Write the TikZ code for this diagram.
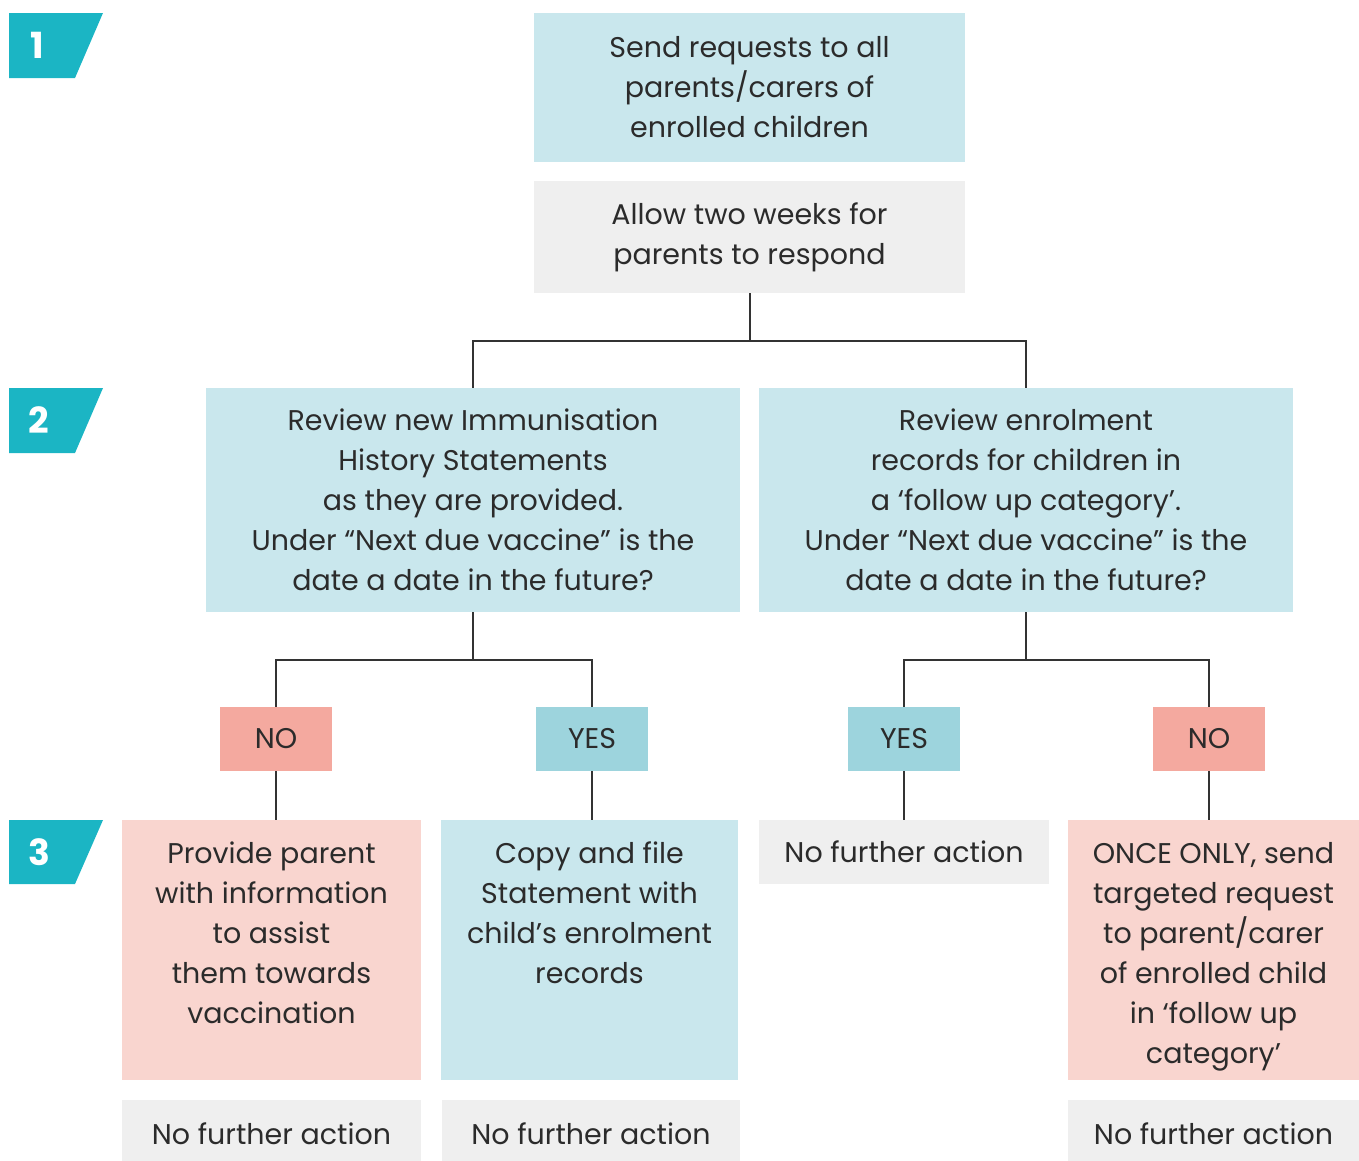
\documentclass[tikz,border=0pt]{standalone}
\usepackage{fontspec}
\setmainfont{Poppins}
\definecolor{lblue}{HTML}{C9E7ED}
\definecolor{lgray}{HTML}{EFEFEF}
\definecolor{lpink}{HTML}{F9D5CF}
\definecolor{nored}{HTML}{F4A99F}
\definecolor{yesblue}{HTML}{9DD4DD}
\definecolor{badge}{HTML}{1BB5C4}
\definecolor{txt}{HTML}{2B2B2B}
\definecolor{ln}{HTML}{333333}
\tikzset{
  base/.style={inner sep=0pt, align=center, text=txt, font=\fontsize{28.5}{40}\selectfont},
  bluebox/.style={base, fill=lblue},
  graybox/.style={base, fill=lgray},
  pinkbox/.style={base, fill=lpink},
  nobox/.style={base, fill=nored, minimum width=112, minimum height=64},
  yesbox/.style={base, fill=yesblue, minimum width=112, minimum height=64},
  conn/.style={draw=ln, line width=2pt},
  badgenum/.style={text=white, font=\fontsize{36}{40}\selectfont\bfseries, inner sep=0pt}
}
\begin{document}
\begin{tikzpicture}[x=1pt,y=-1pt]
\useasboundingbox (0,0) rectangle (1359,1160);
% badges
\fill[badge] (9,13) -- (103,13) -- (75,78) -- (9,78) -- cycle;
\node[badgenum] (n1) at (37,45.5) {1};
\fill[badge] (9,388) -- (103,388) -- (75,453) -- (9,453) -- cycle;
\node[badgenum] (n2) at (39,420.5) {2};
\fill[badge] (9,820) -- (103,820) -- (75,884) -- (9,884) -- cycle;
\node[badgenum] (n3) at (39,852) {3};
% row 1
\node[bluebox, minimum width=431, minimum height=149] (a) at (749.5,87.5)
  {Send requests to all\\parents/carers of\\enrolled children};
\node[graybox, minimum width=431, minimum height=112] (b) at (749.5,237)
  {Allow two weeks for\\parents to respond};
% row 2
\node[bluebox, minimum width=534, minimum height=224] (c) at (473,500)
  {Review new Immunisation\\History Statements\\as they are provided.\\Under “Next due vaccine” is the\\date a date in the future?};
\node[bluebox, minimum width=534, minimum height=224] (d) at (1026,500)
  {Review enrolment\\records for children in\\a ‘follow up category’.\\Under “Next due vaccine” is the\\date a date in the future?};
% yes/no
\node[nobox] (no1) at (276,739) {NO};
\node[yesbox] (yes1) at (592,739) {YES};
\node[yesbox] (yes2) at (904,739) {YES};
\node[nobox] (no2) at (1209,739) {NO};
% row 3
\node[pinkbox, anchor=north, minimum width=299, minimum height=260] (e) at (271.5,820)
  {\parbox[c][216pt][t]{295pt}{\centering Provide parent\\with information\\to assist\\them towards\\vaccination}};
\node[bluebox, anchor=north, minimum width=297, minimum height=260] (f) at (589.5,820)
  {\parbox[c][216pt][t]{295pt}{\centering Copy and file\\Statement with\\child’s enrolment\\records}};
\node[graybox, anchor=north, minimum width=290, minimum height=64] (g) at (904,820)
  {No further action};
\node[pinkbox, anchor=north, minimum width=291, minimum height=260] (h) at (1213.5,820)
  {\parbox[c][216pt][t]{290pt}{\centering ONCE ONLY, send\\targeted request\\to parent/carer\\of enrolled child\\in ‘follow up\\category’}};
% bottom
\node[graybox, anchor=north, minimum width=299, minimum height=68] (e2) at (271.5,1100) {No further action};
\node[graybox, anchor=north, minimum width=298, minimum height=68] (f2) at (591,1100) {No further action};
\node[graybox, anchor=north, minimum width=291, minimum height=68] (h2) at (1213.5,1100) {No further action};
% connectors
\coordinate (j1) at (749.5,341);
\coordinate (j2) at (473,660);
\coordinate (j3) at (1026,660);
\draw[conn] (b.south) -- (j1);
\draw[conn] (c.north) |- (j1) -| (d.north);
\draw[conn] (c.south) -- (j2);
\draw[conn] (no1.north) |- (j2) -| (yes1.north);
\draw[conn] (d.south) -- (j3);
\draw[conn] (yes2.north) |- (j3) -| (no2.north);
\draw[conn] (no1.south) -- (e.north -| no1.south);
\draw[conn] (yes1.south) -- (f.north -| yes1.south);
\draw[conn] (yes2.south) -- (g.north);
\draw[conn] (no2.south) -- (h.north -| no2.south);
\end{tikzpicture}
\end{document}
